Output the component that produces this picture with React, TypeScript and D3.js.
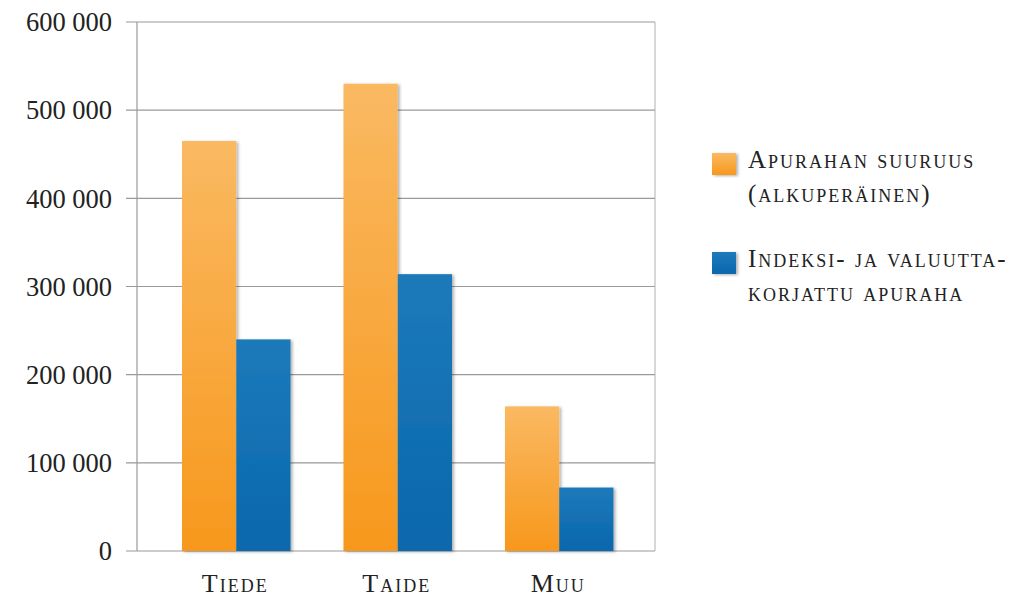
import React, {useEffect, useRef} from 'react';
import * as d3 from 'd3';

// Apurahat kategorioittain
const categories = ['Tiede', 'Taide', 'Muu'];
const originalValues = [465000, 530000, 164000];
const adjustedValues = [240000, 314000, 72000];
const yTicks = [0, 100000, 200000, 300000, 400000, 500000, 600000];
const seriesNames = [
  ['Apurahan suuruus', '(alkuperäinen)'],
  ['Indeksi- ja valuutta-', 'korjattu apuraha'],
];

const FONT = '"Palatino Linotype", "Book Antiqua", Palatino, "Liberation Serif", serif';

const App: React.FC = () => {
  const svgRef = useRef<SVGSVGElement>(null);

  useEffect(() => {
    if (!svgRef.current) return;
    const svg = d3.select(svgRef.current);
    svg.selectAll('*').remove();

    const frame = {left: 137, right: 655, top: 22, bottom: 551};

    const defs = svg.append('defs');
    const gradients = [
      {id: 'grad-orange', top: '#fab962', bottom: '#f7981c'},
      {id: 'grad-blue', top: '#1d7aba', bottom: '#0867ac'},
    ];
    gradients.forEach((g) => {
      const lg = defs
        .append('linearGradient')
        .attr('id', g.id)
        .attr('x1', 0)
        .attr('y1', 0)
        .attr('x2', 0)
        .attr('y2', 1);
      lg.append('stop').attr('offset', '0%').attr('stop-color', g.top);
      lg.append('stop').attr('offset', '100%').attr('stop-color', g.bottom);
    });
    defs
      .append('filter')
      .attr('id', 'shadow')
      .attr('x', '-20%')
      .attr('y', '-10%')
      .attr('width', '140%')
      .attr('height', '120%')
      .append('feDropShadow')
      .attr('dx', 2)
      .attr('dy', 1)
      .attr('stdDeviation', 1.5)
      .attr('flood-color', '#000')
      .attr('flood-opacity', 0.3);

    const y = d3
      .scaleLinear()
      .domain([0, 600000])
      .range([frame.bottom, frame.top]);

    const x = d3
      .scaleBand()
      .domain(categories)
      .range([frame.left, frame.right])
      .paddingInner(0.328)
      .paddingOuter(0.268)
      .align(0.52);

    const xSub = d3
      .scaleBand()
      .domain(['orig', 'adj'])
      .range([0, x.bandwidth()]);

    // Grid lines and ticks
    svg
      .append('g')
      .selectAll('line')
      .data(yTicks)
      .enter()
      .append('line')
      .attr('x1', frame.left - 11)
      .attr('x2', frame.right)
      .attr('y1', (d) => y(d))
      .attr('y2', (d) => y(d))
      .attr('stroke', '#9a9a9a')
      .attr('stroke-width', 1.2);

    // Frame sides
    svg
      .append('line')
      .attr('x1', frame.left)
      .attr('x2', frame.left)
      .attr('y1', frame.top)
      .attr('y2', frame.bottom)
      .attr('stroke', '#9a9a9a')
      .attr('stroke-width', 1.2);
    svg
      .append('line')
      .attr('x1', frame.right)
      .attr('x2', frame.right)
      .attr('y1', frame.top)
      .attr('y2', frame.bottom)
      .attr('stroke', '#b0b0b0')
      .attr('stroke-width', 1);

    // Y labels
    svg
      .append('g')
      .selectAll('text')
      .data(yTicks)
      .enter()
      .append('text')
      .attr('x', 112)
      .attr('y', (d) => y(d))
      .attr('dy', '0.35em')
      .attr('text-anchor', 'end')
      .attr('font-family', FONT)
      .attr('font-size', 26.5)
      .attr('fill', '#222')
      .text((d) => d3.format(',')(d).replace(/,/g, ' '));

    // Bars
    const groups = svg
      .append('g')
      .selectAll('g')
      .data(categories)
      .enter()
      .append('g')
      .attr('transform', (d) => `translate(${x(d)},0)`);

    groups
      .append('rect')
      .attr('x', xSub('orig') || 0)
      .attr('width', xSub.bandwidth())
      .attr('y', (d, i) => y(originalValues[i]))
      .attr('height', (d, i) => frame.bottom - y(originalValues[i]))
      .attr('fill', 'url(#grad-orange)')
      .attr('filter', 'url(#shadow)');

    groups
      .append('rect')
      .attr('x', xSub('adj') || 0)
      .attr('width', xSub.bandwidth())
      .attr('y', (d, i) => y(adjustedValues[i]))
      .attr('height', (d, i) => frame.bottom - y(adjustedValues[i]))
      .attr('fill', 'url(#grad-blue)')
      .attr('filter', 'url(#shadow)');

    // Category labels
    svg
      .append('g')
      .selectAll('text')
      .data(categories)
      .enter()
      .append('text')
      .attr('x', (d) => (x(d) || 0) + x.bandwidth() / 2 - 1)
      .attr('y', 592)
      .attr('text-anchor', 'middle')
      .attr('font-family', FONT)
      .attr('font-size', 26)
      .style('font-variant', 'small-caps')
      .style('letter-spacing', '2px')
      .attr('fill', '#222')
      .text((d) => d);

    // Legend
    const legend = svg
      .append('g')
      .selectAll('g')
      .data(seriesNames)
      .enter()
      .append('g')
      .attr('transform', (d, i) => `translate(712,${168 + i * 99})`);

    legend
      .append('rect')
      .attr('y', -15)
      .attr('width', 24)
      .attr('height', 22)
      .attr('fill', (d, i) => (i === 0 ? 'url(#grad-orange)' : 'url(#grad-blue)'))
      .attr('filter', 'url(#shadow)');

    legend
      .selectAll('text')
      .data((d) => d)
      .enter()
      .append('text')
      .attr('x', 36)
      .attr('y', (d, j) => j * 34)
      .attr('font-family', FONT)
      .attr('font-size', 25)
      .style('font-variant', 'small-caps')
      .style('letter-spacing', '2px')
      .attr('fill', '#222')
      .text((d) => d);
  }, []);

  return (
    <svg
      ref={svgRef}
      width={1035}
      height={602}
      style={{position: 'fixed', left: 0, top: 0, background: '#fff'}}
    />
  );
};

export default App;
